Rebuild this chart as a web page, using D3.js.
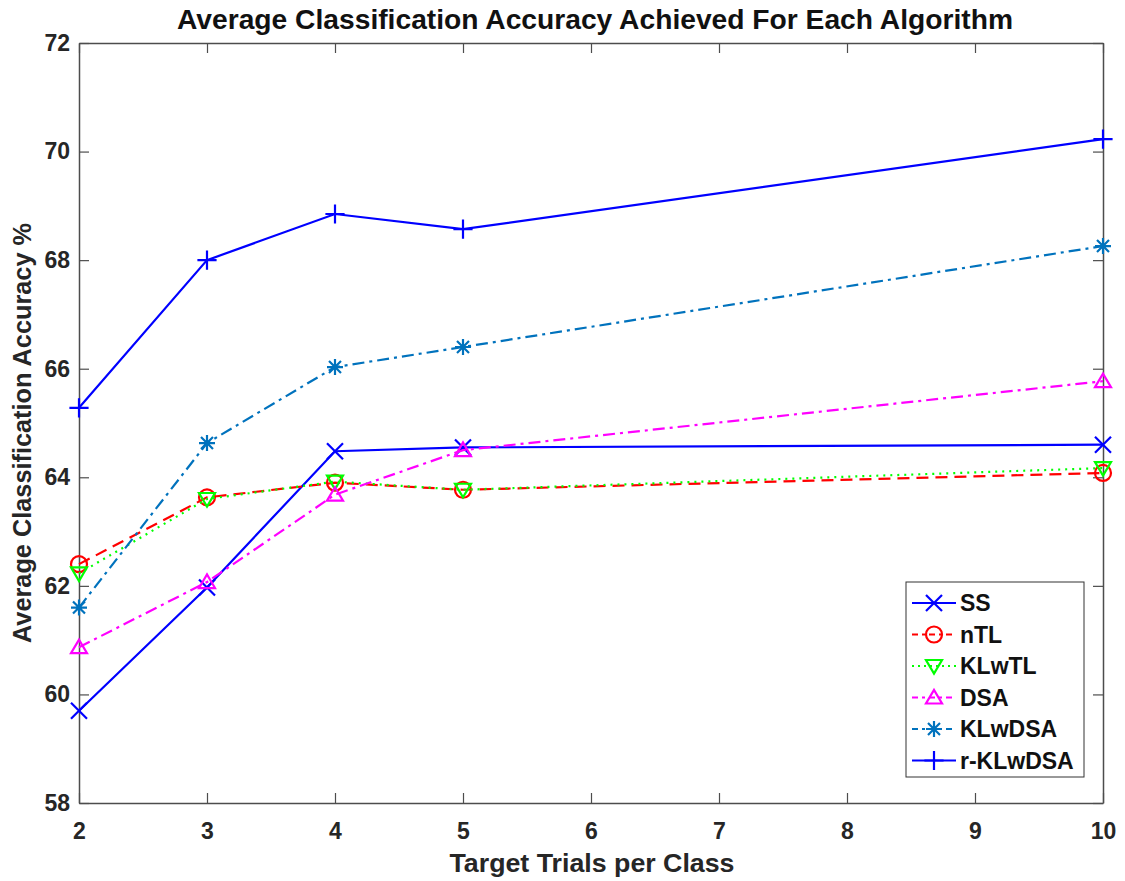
<!DOCTYPE html>
<html>
<head>
<meta charset="utf-8">
<script src="https://cdn.jsdelivr.net/npm/d3@7"></script>
<style>
  body { margin: 0; background: #fff; }
  text { font-family: "Liberation Sans", Arial, sans-serif; font-weight: bold; }
</style>
</head>
<body>
<div id="wrapper"></div>
<script>
// data
const trials = [2, 3, 4, 5, 10];
const seriesNames = ["SS", "nTL", "KLwTL", "DSA", "KLwDSA", "r-KLwDSA"];
const ssValues = [59.7, 61.97, 64.48, 64.55, 64.6];
const ntlValues = [62.4, 63.63, 63.9, 63.77, 64.08];
const klwtlValues = [62.23, 63.6, 63.92, 63.77, 64.17];
const dsaValues = [60.87, 62.07, 63.68, 64.5, 65.77];
const klwdsaValues = [61.6, 64.63, 66.03, 66.4, 68.26];
const rklwdsaValues = [65.28, 68.0, 68.85, 68.57, 70.23];
const xTicks = [2, 3, 4, 5, 6, 7, 8, 9, 10];
const yTicks = [58, 60, 62, 64, 66, 68, 70, 72];

const allValues = [ssValues, ntlValues, klwtlValues, dsaValues, klwdsaValues, rklwdsaValues];

const styles = [
  { color: "#0000ff", dash: null, marker: "x" },
  { color: "#ff0000", dash: "12,7", marker: "o" },
  { color: "#00ff00", dash: "2,5", marker: "v" },
  { color: "#ff00ff", dash: "12,5,3,5", marker: "^" },
  { color: "#0072bd", dash: "12,5,3,5", marker: "*" },
  { color: "#0000ff", dash: null, marker: "+" },
];

const series = seriesNames.map((name, i) => ({
  name,
  style: styles[i],
  points: trials.map((t, j) => ({ x: t, y: allValues[i][j] })),
}));

// dimensions
const dimensions = {
  width: 1125,
  height: 881,
  margin: { top: 43, right: 22, bottom: 78, left: 79 },
};
dimensions.boundedWidth = dimensions.width - dimensions.margin.left - dimensions.margin.right;
dimensions.boundedHeight = dimensions.height - dimensions.margin.top - dimensions.margin.bottom;

const svg = d3.select("#wrapper")
  .append("svg")
  .attr("width", dimensions.width)
  .attr("height", dimensions.height);

const bounds = svg.append("g")
  .attr("transform", `translate(${dimensions.margin.left},${dimensions.margin.top})`);

const xScale = d3.scaleLinear().domain([2, 10]).range([0, dimensions.boundedWidth]);
const yScale = d3.scaleLinear().domain([58, 72]).range([dimensions.boundedHeight, 0]);

const axisColor = "#4d4d4d";
const tickLen = 10;

// axes: ticks pointing inward, labels outside
const xAxis = bounds.append("g")
  .attr("transform", `translate(0,${dimensions.boundedHeight})`)
  .call(d3.axisBottom(xScale).tickValues(xTicks).tickSizeInner(-tickLen).tickSizeOuter(0).tickPadding(20));
const xTop = bounds.append("g")
  .call(d3.axisTop(xScale).tickValues(xTicks).tickSizeInner(-tickLen).tickSizeOuter(0).tickFormat(""));
const yAxis = bounds.append("g")
  .call(d3.axisLeft(yScale).tickValues(yTicks).tickSizeInner(-tickLen).tickSizeOuter(0).tickPadding(9));
const yRight = bounds.append("g")
  .attr("transform", `translate(${dimensions.boundedWidth},0)`)
  .call(d3.axisRight(yScale).tickValues(yTicks).tickSizeInner(-tickLen).tickSizeOuter(0).tickFormat(""));

[xAxis, xTop, yAxis, yRight].forEach((g) => {
  g.select(".domain").attr("stroke", axisColor).attr("stroke-width", 1.5);
  g.selectAll(".tick line").attr("stroke", axisColor).attr("stroke-width", 1.2);
  g.selectAll(".tick text")
    .attr("fill", "#262626")
    .style("font-size", "23px")
    .style("font-family", '"Liberation Sans", Arial, sans-serif')
    .style("font-weight", "bold");
});

// marker shapes
function markerPath(type, s) {
  switch (type) {
    case "x": return `M${-s},${-s}L${s},${s}M${-s},${s}L${s},${-s}`;
    case "+": return `M${-s * 1.2},0L${s * 1.2},0M0,${-s * 1.2}L0,${s * 1.2}`;
    case "*": {
      const d = s * 0.75;
      return `M${-s},0L${s},0M0,${-s}L0,${s}M${-d},${-d}L${d},${d}M${-d},${d}L${d},${-d}`;
    }
    case "o": return `M${s},0A${s},${s} 0 1,1 ${-s},0A${s},${s} 0 1,1 ${s},0Z`;
    case "v": return `M${-s},${-s * 0.75}L${s},${-s * 0.75}L0,${s * 0.95}Z`;
    case "^": return `M${-s},${s * 0.75}L${s},${s * 0.75}L0,${-s * 0.95}Z`;
  }
}

const line = d3.line().x((d) => xScale(d.x)).y((d) => yScale(d.y));

const seriesG = bounds.selectAll(".series").data(series).join("g").attr("class", "series");

seriesG.append("path")
  .attr("d", (d) => line(d.points))
  .attr("fill", "none")
  .attr("stroke", (d) => d.style.color)
  .attr("stroke-width", 2.2)
  .attr("stroke-dasharray", (d) => d.style.dash);

seriesG.selectAll(".marker")
  .data((d) => d.points.map((p) => ({ ...p, style: d.style })))
  .join("path")
  .attr("class", "marker")
  .attr("transform", (d) => `translate(${xScale(d.x)},${yScale(d.y)})`)
  .attr("d", (d) => markerPath(d.style.marker, 8))
  .attr("fill", "none")
  .attr("stroke", (d) => d.style.color)
  .attr("stroke-width", 2.2);

// title and labels (condensed look via textLength)
svg.append("text")
  .attr("x", 595)
  .attr("y", 29)
  .attr("text-anchor", "middle")
  .attr("fill", "#111")
  .attr("textLength", 836)
  .attr("lengthAdjust", "spacingAndGlyphs")
  .style("font-size", "27px")
  .text("Average Classification Accuracy Achieved For Each Algorithm");

svg.append("text")
  .attr("x", 592)
  .attr("y", 872)
  .attr("text-anchor", "middle")
  .attr("fill", "#262626")
  .attr("textLength", 285)
  .attr("lengthAdjust", "spacingAndGlyphs")
  .style("font-size", "26px")
  .text("Target Trials per Class");

svg.append("text")
  .attr("transform", "translate(31,433) rotate(-90)")
  .attr("text-anchor", "middle")
  .attr("fill", "#262626")
  .attr("textLength", 420)
  .attr("lengthAdjust", "spacingAndGlyphs")
  .style("font-size", "26px")
  .text("Average Classification Accuracy %");

// legend
const legend = svg.append("g").attr("transform", "translate(906,582)");
legend.append("rect")
  .attr("width", 178)
  .attr("height", 195)
  .attr("fill", "#fff")
  .attr("stroke", "#333")
  .attr("stroke-width", 1);

const legendItems = legend.selectAll(".item").data(series).join("g")
  .attr("class", "item")
  .attr("transform", (d, i) => `translate(0,${21 + i * 31.5})`);

legendItems.append("line")
  .attr("x1", 6).attr("x2", 50)
  .attr("stroke", (d) => d.style.color)
  .attr("stroke-width", 2.2)
  .attr("stroke-dasharray", (d) => (d.style.dash === "2,5" ? "2,4" : d.style.dash ? "6,4,3,4" : null));

legendItems.append("path")
  .attr("transform", "translate(28,0)")
  .attr("d", (d) => markerPath(d.style.marker, 8))
  .attr("fill", "none")
  .attr("stroke", (d) => d.style.color)
  .attr("stroke-width", 2.2);

legendItems.append("text")
  .attr("x", 54)
  .attr("y", 8)
  .attr("fill", "#111")
  .style("font-size", "23px")
  .text((d) => d.name);
</script>
</body>
</html>
